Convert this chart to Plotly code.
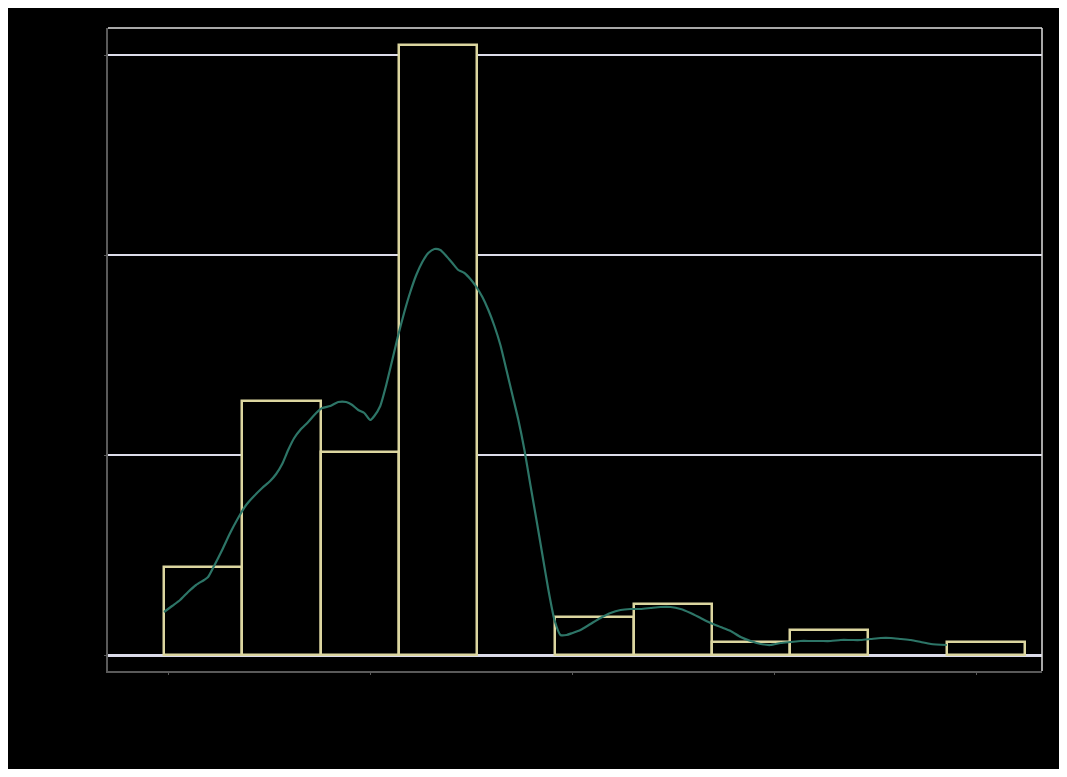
import plotly.graph_objects as go

# Histogram bins (density values)
bin_start = -0.40
bin_width = 7.74
bin_density = [0.0088, 0.0254, 0.0203, 0.0610, None, 0.0038, 0.0051, 0.0013, 0.0025, None, 0.0013]

# KDE curve
kde_x = [-0.40, 0.40, 1.19, 1.98, 2.77, 3.56, 3.96, 4.55, 5.35, 6.14, 6.93, 7.72, 8.51, 9.31,
         10.10, 10.69, 11.29, 11.88, 12.48, 13.07, 13.86, 14.65, 15.25, 16.04, 16.83, 17.62,
         18.22, 18.81, 19.41, 20.00, 20.40, 20.99, 21.58, 22.18, 22.77, 23.37, 23.96, 24.55,
         25.15, 25.74, 26.34, 26.93, 27.52, 28.12, 28.71, 29.31, 29.90, 30.50, 31.09, 31.68,
         32.28, 32.87, 33.47, 34.06, 34.65, 35.25, 35.84, 36.44, 37.03, 37.62, 38.22, 38.81,
         39.41, 40.00, 40.79, 41.78, 42.77, 43.76, 44.75, 45.74, 46.73, 47.72, 48.71, 49.70,
         50.69, 51.68, 52.67, 53.66, 54.65, 55.64, 56.63, 57.62, 58.61, 59.60, 60.59, 61.58,
         62.57, 63.56, 64.55, 65.54, 66.53, 67.52, 68.51, 69.50, 70.50, 71.49, 72.48, 73.47,
         74.46, 75.45, 77.03]
kde_y = [0.0043, 0.0049, 0.0055, 0.0063, 0.0070, 0.0075, 0.0078, 0.0089, 0.0105, 0.0122, 0.0137,
         0.0150, 0.0159, 0.0167, 0.0174, 0.0181, 0.0191, 0.0205, 0.0217, 0.0225, 0.0233, 0.0242,
         0.0247, 0.0249, 0.0253, 0.0253, 0.0250, 0.0245, 0.0242, 0.0235, 0.0239, 0.0249, 0.0270,
         0.0295, 0.0320, 0.0343, 0.0363, 0.0380, 0.0393, 0.0402, 0.0406, 0.0405, 0.0399, 0.0392,
         0.0385, 0.0382, 0.0376, 0.0368, 0.0358, 0.0345, 0.0329, 0.0310, 0.0285, 0.0260, 0.0235,
         0.0205, 0.0170, 0.0135, 0.0100, 0.0065, 0.0035, 0.0020, 0.0020, 0.0022, 0.0025, 0.0031,
         0.0037, 0.0042, 0.0045, 0.0046, 0.0046, 0.0047, 0.0048, 0.0048, 0.0046, 0.0042, 0.0037,
         0.0032, 0.0028, 0.0024, 0.0018, 0.0014, 0.0011, 0.0010, 0.0012, 0.0013, 0.0014, 0.0014,
         0.0014, 0.0014, 0.0015, 0.0015, 0.0015, 0.0016, 0.0017, 0.0017, 0.0016, 0.0015, 0.0013,
         0.0011, 0.0010]

x_range = [-5.94, 86.44]
y_range = [-0.0016, 0.0627]
y_ticks = [0, 0.02, 0.04, 0.06]
x_ticks = [0, 20, 40, 60, 80]

bin_centers = [bin_start + bin_width * (i + 0.5) for i in range(len(bin_density))]

fig = go.Figure()
fig.add_trace(go.Bar(
    x=bin_centers, y=bin_density, width=bin_width,
    marker=dict(color="black", line=dict(color="#dcd6a0", width=2.5)),
    showlegend=False,
))
fig.add_trace(go.Scatter(
    x=kde_x, y=kde_y, mode="lines",
    line=dict(color="#2d7567", width=2.2, shape="spline", smoothing=0.6),
    showlegend=False,
))

fig.update_layout(
    paper_bgcolor="black",
    plot_bgcolor="black",
    font=dict(color="black", family="Open Sans"),
    margin=dict(l=100, r=17, t=20, b=98),
    bargap=0,
    xaxis=dict(range=x_range, tickvals=x_ticks, showgrid=False, zeroline=False,
               showline=True, linecolor="#5a5a5a", linewidth=1.5,
               ticks="outside", ticklen=2, tickcolor="#5a5a5a"),
    yaxis=dict(range=y_range, tickvals=y_ticks, showgrid=True, gridcolor="#dcdcea", gridwidth=2,
               zeroline=True, zerolinecolor="#dcdcea", zerolinewidth=2.5,
               showline=True, linecolor="#5a5a5a", linewidth=1.5,
               ticks="outside", ticklen=2, tickcolor="#5a5a5a"),
    shapes=[
        dict(type="line", xref="paper", yref="paper", x0=0, x1=1, y0=1, y1=1,
             line=dict(color="#e0e0e0", width=1.5)),
        dict(type="line", xref="paper", yref="paper", x0=1, x1=1, y0=0, y1=1,
             line=dict(color="#e0e0e0", width=1.5)),
    ],
)

fig.write_html("out.html")
